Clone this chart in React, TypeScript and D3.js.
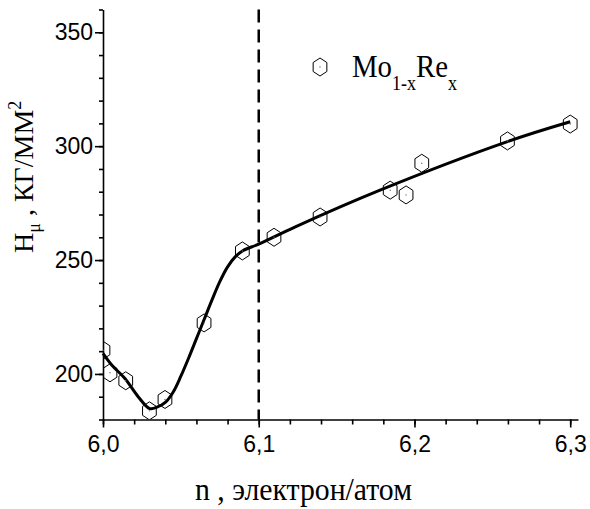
import React, { useEffect, useRef } from "react";
import * as d3 from "d3";

// measured points (n, Hμ)
const nValues = [6.0, 6.0045, 6.0146, 6.0298, 6.0398, 6.0649, 6.0895, 6.1098, 6.1394, 6.1844, 6.1946, 6.2047, 6.2597, 6.3];
const hValues = [210.4, 200.5, 197, 183.8, 188.8, 222.4, 254, 260, 268.9, 280.7, 278.6, 292.5, 302.3, 309.7];

// fitted curve drawn through the data
const fitN = [6.0, 6.0056, 6.0141, 6.0227, 6.03, 6.035, 6.04, 6.045, 6.05, 6.055, 6.06, 6.065, 6.07, 6.075, 6.08, 6.085, 6.09, 6.1, 6.1235, 6.1779, 6.2597, 6.3];
const fitH = [209, 203.9, 198, 189.9, 184.8, 185.5, 187.5, 192, 199, 207, 215.5, 224, 232.5, 240.5, 247, 251.5, 254.2, 257, 264.6, 280.7, 302, 310.7];

const xMajor = [6.0, 6.1, 6.2, 6.3];
const yMajor = [200, 250, 300, 350];
const boundaryN = 6.1;

export default function App() {
  const svgRef = useRef<SVGSVGElement>(null);

  useEffect(() => {
    drawChart();
  }, []);

  const drawChart = () => {
    const svg = d3.select(svgRef.current);
    svg.selectAll("*").remove();

    const x = d3.scaleLinear().domain([6.0, 6.305]).range([103, 578]);
    const y = d3.scaleLinear().domain([180, 360]).range([419.5, 9.5]);

    const sans = "'Liberation Sans', Arial, sans-serif";
    const serif = "'Liberation Serif', 'Times New Roman', serif";

    // minor ticks
    const xMinor = d3.range(0, 16).map((i) => 6.0 + i * 0.02);
    const yMinor = d3.range(0, 19).map((i) => 180 + i * 10);

    svg
      .append("g")
      .attr("transform", `translate(0,${y(180)})`)
      .call(d3.axisBottom(x).tickValues(xMinor).tickSize(5).tickSizeOuter(0).tickFormat(() => ""))
      .call((g) => g.selectAll("line,path").attr("stroke", "#000").attr("stroke-width", 1.6));

    svg
      .append("g")
      .attr("transform", `translate(0,${y(180)})`)
      .call(
        d3
          .axisBottom(x)
          .tickValues(xMajor)
          .tickSize(8)
          .tickSizeOuter(0)
          .tickPadding(8)
          .tickFormat((d) => d3.format(".1f")(d as number).replace(".", ","))
      )
      .call((g) => g.select(".domain").remove())
      .call((g) => g.selectAll("line").attr("stroke", "#000").attr("stroke-width", 1.6))
      .call((g) =>
        g.selectAll("text").attr("font-family", sans).attr("font-size", 23).attr("fill", "#000")
      );

    svg
      .append("g")
      .attr("transform", `translate(${x(6.0)},0)`)
      .call(d3.axisLeft(y).tickValues(yMinor).tickSize(4).tickSizeOuter(0).tickFormat(() => ""))
      .call((g) => g.selectAll("line,path").attr("stroke", "#000").attr("stroke-width", 1.6));

    svg
      .append("g")
      .attr("transform", `translate(${x(6.0)},0)`)
      .call(d3.axisLeft(y).tickValues(yMajor).tickSize(8).tickSizeOuter(0).tickPadding(2))
      .call((g) => g.select(".domain").remove())
      .call((g) => g.selectAll("line").attr("stroke", "#000").attr("stroke-width", 1.6))
      .call((g) =>
        g.selectAll("text").attr("font-family", sans).attr("font-size", 23).attr("fill", "#000")
      );

    // dashed boundary at n = 6.1
    svg
      .append("line")
      .attr("x1", x(boundaryN))
      .attr("x2", x(boundaryN))
      .attr("y1", y(360))
      .attr("y2", y(180))
      .attr("stroke", "#000")
      .attr("stroke-width", 2.5)
      .attr("stroke-dasharray", "13,7");

    // fitted curve
    const fitData = fitN.map((n, i) => [n, fitH[i]] as [number, number]);
    const line = d3
      .line<[number, number]>()
      .x((d) => x(d[0]))
      .y((d) => y(d[1]))
      .curve(d3.curveCatmullRom.alpha(0.5));

    svg
      .append("path")
      .datum(fitData)
      .attr("d", line)
      .attr("fill", "none")
      .attr("stroke", "#000")
      .attr("stroke-width", 3);

    // hexagon markers, clipped to the plot area
    svg
      .append("clipPath")
      .attr("id", "plot-clip")
      .append("rect")
      .attr("x", x(6.0))
      .attr("y", 0)
      .attr("width", 500)
      .attr("height", y(180));

    const hexPath = (r: number) => {
      const pts = d3.range(6).map((i) => {
        const a = (Math.PI / 3) * i - Math.PI / 2;
        return [r * 0.88 * Math.cos(a), r * Math.sin(a)];
      });
      return "M" + pts.map((p) => p.join(",")).join("L") + "Z";
    };

    const marks = svg
      .append("g")
      .attr("clip-path", "url(#plot-clip)")
      .selectAll("g")
      .data(nValues.map((n, i) => [n, hValues[i]]))
      .enter()
      .append("g")
      .attr("transform", (d) => `translate(${x(d[0])},${y(d[1])})`);

    marks.append("path").attr("d", hexPath(9)).attr("fill", "none").attr("stroke", "#000").attr("stroke-width", 1);
    marks.append("circle").attr("r", 0.7).attr("fill", "#666");

    // legend
    const leg = svg.append("g").attr("transform", "translate(320,67)");
    leg.append("path").attr("d", hexPath(9)).attr("fill", "none").attr("stroke", "#000").attr("stroke-width", 1);
    leg.append("circle").attr("r", 0.7).attr("fill", "#666");

    const legText = svg
      .append("text")
      .attr("transform", "translate(352,77) scale(0.9,1)")
      .attr("font-family", serif)
      .attr("font-size", 32)
      .attr("fill", "#000");
    legText.append("tspan").text("Mo");
    legText.append("tspan").attr("font-size", 20).attr("dy", 13).text("1-x");
    legText.append("tspan").attr("dy", -13).text("Re");
    legText.append("tspan").attr("font-size", 20).attr("dy", 13).text("x");

    // x label
    svg
      .append("text")
      .attr("x", 195)
      .attr("y", 500)
      .attr("font-family", serif)
      .attr("font-size", 32)
      .attr("textLength", 217)
      .attr("lengthAdjust", "spacingAndGlyphs")
      .attr("fill", "#000")
      .text("n ,  электрон/атом");

    // y label
    const yLab = svg
      .append("text")
      .attr("transform", "translate(33,253) rotate(-90)")
      .attr("font-family", serif)
      .attr("font-size", 28)
      .attr("fill", "#000");
    yLab.append("tspan").text("H");
    yLab.append("tspan").attr("font-size", 18).attr("dy", 7).text("μ");
    yLab.append("tspan").attr("dy", -7).text(" , КГ/ММ");
    yLab.append("tspan").attr("font-size", 18).attr("dy", -12).text("2");
  };

  return (
    <svg
      ref={svgRef}
      width={590}
      height={509}
      style={{ position: "absolute", left: 0, top: 0, background: "#fff" }}
    ></svg>
  );
}
